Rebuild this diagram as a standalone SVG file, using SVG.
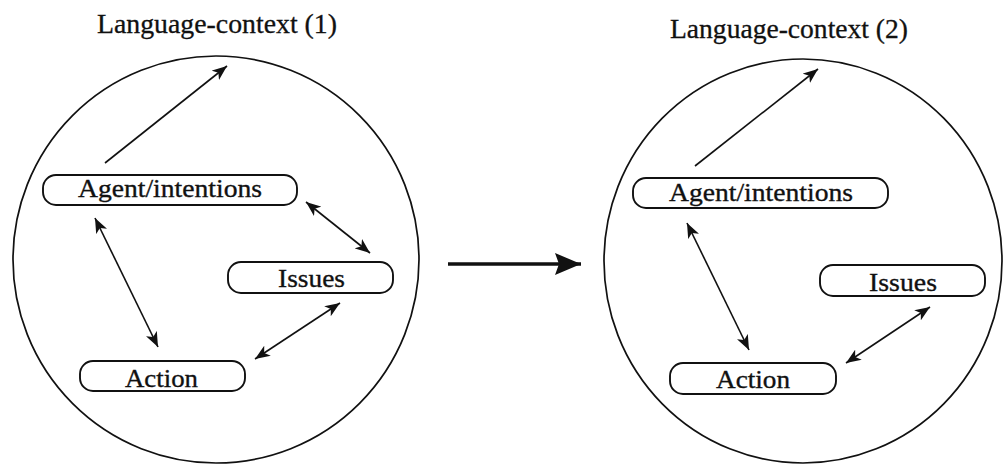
<svg xmlns="http://www.w3.org/2000/svg" width="1003" height="464" viewBox="0 0 1003 464">
<style>
.ctx{fill:none;stroke:#111;stroke-width:1.7}
.box{fill:#fff;stroke:#111;stroke-width:1.9}
.lbl{font-family:"Liberation Serif","Times New Roman",serif;font-size:26px;fill:#111;stroke:#111;stroke-width:0.35}
.ttl{font-family:"Liberation Serif","Times New Roman",serif;font-size:27px;fill:#111;stroke:#111;stroke-width:0.3}
.arr{stroke:#111;stroke-width:1.6;fill:none}
</style>
<defs>
<marker id="ah" viewBox="0 0 15 12" refX="15" refY="6" markerWidth="15" markerHeight="12" markerUnits="userSpaceOnUse" orient="auto-start-reverse">
<path d="M0,0 L15,6 L0,12 L4,6 Z" fill="#111"/>
</marker>
<marker id="bigah" viewBox="0 0 26 22" refX="26" refY="11" markerWidth="26" markerHeight="22" markerUnits="userSpaceOnUse" orient="auto">
<path d="M0,0 L26,11 L0,22 L4,11 Z" fill="#111"/>
</marker>
</defs>
<rect width="1003" height="464" fill="#fff"/>
<g id="context1">
<ellipse class="ctx" cx="216" cy="259.5" rx="203" ry="203.5"/>
<text class="ttl" x="97" y="33" textLength="240" lengthAdjust="spacingAndGlyphs">Language-context (1)</text>
</g>
<g id="context2">
<ellipse class="ctx" cx="803" cy="261" rx="199" ry="202"/>
<text class="ttl" x="670" y="38" textLength="238" lengthAdjust="spacingAndGlyphs">Language-context (2)</text>
</g>
<g id="agent1">
<rect class="box" x="43" y="175" width="254" height="30" rx="13"/>
<text class="lbl" x="78" y="197" textLength="184" lengthAdjust="spacingAndGlyphs">Agent/intentions</text>
</g>
<g id="issues1">
<rect class="box" x="228" y="262" width="165" height="31" rx="13"/>
<text class="lbl" x="278" y="287" textLength="67" lengthAdjust="spacingAndGlyphs">Issues</text>
</g>
<g id="action1">
<rect class="box" x="80" y="361" width="165" height="30" rx="13"/>
<text class="lbl" x="125" y="387" textLength="73" lengthAdjust="spacingAndGlyphs">Action</text>
</g>
<g id="agent2">
<rect class="box" x="633" y="178" width="255" height="30" rx="13"/>
<text class="lbl" x="669" y="201" textLength="184" lengthAdjust="spacingAndGlyphs">Agent/intentions</text>
</g>
<g id="issues2">
<rect class="box" x="820" y="265" width="165" height="31" rx="13"/>
<text class="lbl" x="869" y="291" textLength="68" lengthAdjust="spacingAndGlyphs">Issues</text>
</g>
<g id="action2">
<rect class="box" x="670" y="363" width="166" height="31" rx="13"/>
<text class="lbl" x="716" y="388" textLength="74" lengthAdjust="spacingAndGlyphs">Action</text>
</g>
<g id="connectors">
<line class="arr" x1="105" y1="163" x2="227" y2="66" marker-end="url(#ah)"/>
<line class="arr" x1="306" y1="202" x2="370" y2="253" marker-start="url(#ah)" marker-end="url(#ah)"/>
<line class="arr" x1="95" y1="218" x2="158" y2="347" marker-start="url(#ah)" marker-end="url(#ah)"/>
<line class="arr" x1="340" y1="303" x2="255" y2="359" marker-start="url(#ah)" marker-end="url(#ah)"/>
<line x1="448" y1="264" x2="581" y2="264" stroke="#111" stroke-width="3.5" marker-end="url(#bigah)"/>
<line class="arr" x1="695" y1="166" x2="818" y2="69" marker-end="url(#ah)"/>
<line class="arr" x1="687" y1="223" x2="749" y2="350" marker-start="url(#ah)" marker-end="url(#ah)"/>
<line class="arr" x1="930" y1="307" x2="846" y2="363" marker-start="url(#ah)" marker-end="url(#ah)"/>
</g>
</svg>
